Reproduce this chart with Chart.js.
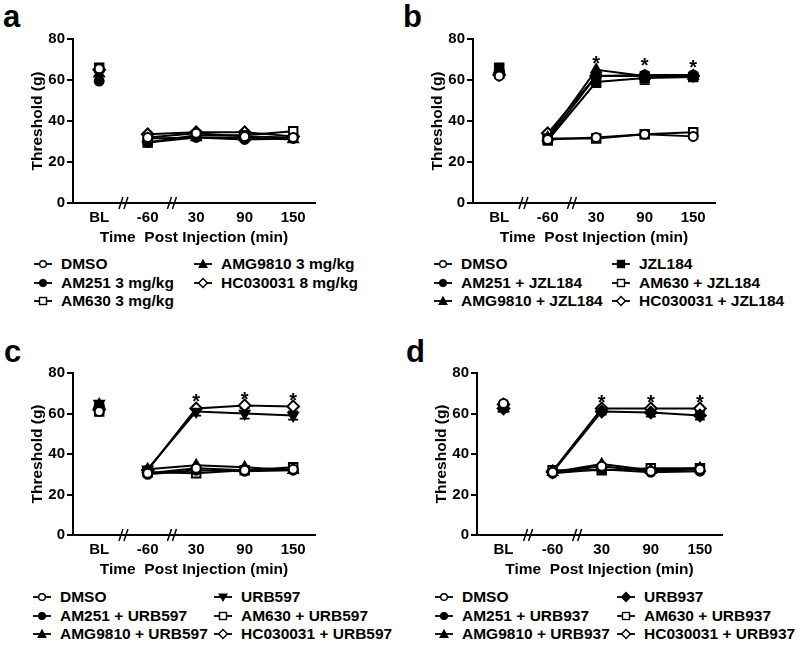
<!DOCTYPE html>
<html>
<head>
<meta charset="utf-8">
<script src="https://cdn.jsdelivr.net/npm/chart.js@4.4.1/dist/chart.umd.min.js"></script>
<style>
body { margin: 0; background: #fff; width: 800px; height: 645px; position: relative; overflow: hidden; font-family: 'Liberation Sans', Arial, sans-serif; font-weight: bold; color: #000; }
.panel { position: absolute; }
.letter { position: absolute; font-size: 31px; line-height: 30px; font-weight: bold; }
.leg { position: absolute; font-size: 15.5px; line-height: 16px; white-space: nowrap; display: flex; align-items: center; }
.leg svg { margin-right: 9px; }
</style>
</head>
<body>
<div class="letter" style="left:3px;top:2px">a</div>
<div class="letter" style="left:403px;top:2px">b</div>
<div class="letter" style="left:4px;top:337px">c</div>
<div class="letter" style="left:406px;top:337px">d</div>
<canvas id="pa" class="panel"></canvas>
<canvas id="pb" class="panel"></canvas>
<canvas id="pc" class="panel"></canvas>
<canvas id="pd" class="panel"></canvas>
<div id="legends"></div>
<script>
const timeLabels = ['BL', '-60', '30', '90', '150'];

// panel a
const namesA = ['DMSO', 'AM251 3 mg/kg', 'AM630 3 mg/kg', 'AMG9810 3 mg/kg', 'HC030031 8 mg/kg'];
const dmsoA = [65.5, 32, 34, 32.5, 32];
const am251A = [59.5, 29.5, 32, 31, 31.5];
const am630A = [66, 29.5, 33, 33, 35];
const amg9810A = [63, 31.5, 32, 32, 31];
const hcA = [65, 33.5, 34.5, 34.5, 32.5];

// panel b
const namesB = ['DMSO', 'AM251 + JZL184', 'AMG9810 + JZL184', 'JZL184', 'AM630 + JZL184', 'HC030031 + JZL184'];
const dmsoB = [62, 31, 32, 33.5, 32.5];
const am251B = [64, 31, 62, 62.5, 62.5];
const amg9810B = [65, 32, 65, 62, 62];
const jzlB = [66, 30.5, 59, 61, 61.5];
const jzlErrB = [1.5, 1, 2.5, 3, 1.5];
const am630B = [63, 31.5, 31.5, 33.5, 34.5];
const hcB = [62.5, 34, 62, 62, 62];
const sigB = [false, false, true, true, true];

// panel c
const namesC = ['DMSO', 'AM251 + URB597', 'AMG9810 + URB597', 'URB597', 'AM630 + URB597', 'HC030031 + URB597'];
const dmsoC = [61, 30.5, 33, 32, 32.5];
const am251C = [64, 30, 32, 31.5, 32];
const amg9810C = [64.5, 32.5, 34.5, 33.5, 32];
const urb597C = [65, 32.5, 61, 60, 59];
const urb597ErrC = [1, 1, 2, 2.5, 2];
const am630C = [61, 31, 30.5, 32, 33.5];
const hcC = [62, 32, 62.5, 64, 63.5];
const sigC = [false, false, true, true, true];

// panel d
const namesD = ['DMSO', 'AM251 + URB937', 'AMG9810 + URB937', 'URB937', 'AM630 + URB937', 'HC030031 + URB937'];
const dmsoD = [65, 31, 34, 31.5, 32.5];
const am251D = [63, 30.5, 32.5, 31, 31.5];
const amg9810D = [62.5, 31, 35, 32, 33];
const urb937D = [62.5, 31, 61, 60.5, 59];
const urb937ErrD = [1, 1, 1.5, 2, 2];
const am630D = [63, 32, 32, 33, 33];
const hcD = [64.5, 31.5, 62.5, 62.5, 62.5];
const sigD = [false, false, true, true, true];

const OC = { s: 'circle', rad: 4.5, f: false }, FC = { s: 'circle', rad: 4.5, f: true };
const OS = { s: 'rect', rad: 6, f: false }, FS = { s: 'rect', rad: 6, f: true };
const FT = { s: 'triangle', rad: 5.5, f: true }, FIT = { s: 'triangle', rad: 5.5, f: true, r: 180 };
const OD = { s: 'rectRot', rad: 5.8, f: false }, FD = { s: 'rectRot', rad: 5.8, f: true };

const FAM = "'Liberation Sans', Arial, sans-serif";
const TICKF = { family: FAM, weight: 'bold', size: 15 };
const TITLEF = { family: FAM, weight: 'bold', size: 15.5 };

const ds = (label, data, sh, err) => ({
    label, err,
    data: data.map((y, i) => ({ x: i, y })),
    pointStyle: sh.s, pointRotation: sh.r || 0, pointRadius: sh.rad, pointHoverRadius: sh.rad,
    pointBackgroundColor: sh.f ? '#000' : '#fff', pointBorderColor: '#000', pointBorderWidth: 2,
    borderColor: '#000', borderWidth: 2, fill: false, tension: 0,
    segment: { borderColor: c => c.p0DataIndex === 0 ? 'rgba(0,0,0,0)' : '#000' },
});

const marks = (sig) => ({
    id: 'marks',
    beforeDatasetsDraw(chart) {
        const { ctx, scales: { x, y } } = chart;
        ctx.save(); ctx.strokeStyle = '#000'; ctx.lineWidth = 1.8;
        chart.data.datasets.forEach(d => {
            if (!d.err) return;
            d.data.forEach((p, i) => {
                const e = d.err[i]; if (!e) return;
                const px = x.getPixelForValue(p.x), t = y.getPixelForValue(p.y + e), b = y.getPixelForValue(p.y - e);
                ctx.beginPath(); ctx.moveTo(px, t); ctx.lineTo(px, b);
                ctx.moveTo(px - 5, t); ctx.lineTo(px + 5, t); ctx.moveTo(px - 5, b); ctx.lineTo(px + 5, b); ctx.stroke();
            });
        });
        ctx.restore();
    },
    afterDraw(chart) {
        const { ctx, scales: { x, y }, chartArea } = chart;
        ctx.save(); ctx.strokeStyle = '#000'; ctx.lineWidth = 1.5;
        [0.5, 1.5].forEach(v => {
            const px = x.getPixelForValue(v), by = chartArea.bottom;
            [-2.5, 2.5].forEach(o => {
                ctx.beginPath(); ctx.moveTo(px + o - 2, by + 6); ctx.lineTo(px + o + 2, by - 6); ctx.stroke();
            });
        });
        if (sig) {
            ctx.fillStyle = '#000'; ctx.font = "bold 20px " + FAM; ctx.textAlign = 'center'; ctx.textBaseline = 'middle';
            sig.forEach((s, i) => {
                if (!s) return;
                const top = Math.max(...chart.data.datasets.map(d => d.data[i].y + ((d.err && d.err[i]) || 0)));
                ctx.fillText('*', x.getPixelForValue(i), y.getPixelForValue(top) - 5);
            });
        }
        ctx.restore();
    },
});

function panel(id, left, top, w, h, padR, datasets, sig) {
    const cv = document.getElementById(id);
    cv.style.left = left + 'px'; cv.style.top = top + 'px';
    cv.width = w; cv.height = h; cv.style.width = w + 'px'; cv.style.height = h + 'px';
    return new Chart(cv, {
        type: 'line',
        data: { datasets },
        plugins: [marks(sig)],
        options: {
            responsive: false, animation: false, events: [],
            layout: { padding: { left: 28, right: padR, top: 39, bottom: 0 } },
            plugins: { legend: { display: false }, tooltip: { enabled: false } },
            scales: {
                x: {
                    type: 'linear', min: -0.54, max: 4.45,
                    afterBuildTicks: s => { s.ticks = timeLabels.map((_, i) => ({ value: i })); },
                    afterFit: s => { s.height = 47; },
                    grid: { drawOnChartArea: false, drawTicks: false },
                    border: { color: '#000', width: 2 },
                    ticks: { color: '#000', font: TICKF, padding: 6, autoSkip: false, maxRotation: 0, callback: v => timeLabels[v] },
                    title: { display: true, text: 'Time  Post Injection (min)', color: '#000', font: TITLEF, padding: { top: 2, bottom: 3 } },
                },
                y: {
                    min: 0, max: 80,
                    afterFit: s => { s.width = 45; },
                    grid: { drawOnChartArea: false, drawTicks: true, tickLength: 6, color: '#000', lineWidth: 2 },
                    border: { color: '#000', width: 2 },
                    ticks: { stepSize: 20, color: '#000', font: TICKF, padding: 2 },
                    title: { display: true, text: 'Threshold (g)', color: '#000', font: TITLEF, padding: 0 },
                },
            },
        },
    });
}

panel('pa', 0, 0, 400, 250, 85, [
    ds(namesA[0], dmsoA, OC), ds(namesA[1], am251A, FC), ds(namesA[2], am630A, OS),
    ds(namesA[3], amg9810A, FT), ds(namesA[4], hcA, OD),
], null);
panel('pb', 400, 0, 400, 250, 85, [
    ds(namesB[0], dmsoB, OC), ds(namesB[1], am251B, FC), ds(namesB[2], amg9810B, FT),
    ds(namesB[3], jzlB, FS, jzlErrB), ds(namesB[4], am630B, OS), ds(namesB[5], hcB, OD),
], sigB);
panel('pc', 0, 334, 400, 248, 85, [
    ds(namesC[0], dmsoC, OC), ds(namesC[1], am251C, FC), ds(namesC[2], amg9810C, FT),
    ds(namesC[3], urb597C, FIT, urb597ErrC), ds(namesC[4], am630C, OS), ds(namesC[5], hcC, OD),
], sigC);
panel('pd', 404, 334, 400, 248, 82, [
    ds(namesD[0], dmsoD, OC), ds(namesD[1], am251D, FC), ds(namesD[2], amg9810D, FT),
    ds(namesD[3], urb937D, FD, urb937ErrD), ds(namesD[4], am630D, OS), ds(namesD[5], hcD, OD),
], sigD);

// legends, column-major like the original figure
function sym(sh) {
    const f = sh.f ? '#000' : '#fff';
    let m;
    if (sh.s === 'circle') m = `<circle cx="9" cy="6" r="3.3" fill="${f}" stroke="#000" stroke-width="1.4"/>`;
    else if (sh.s === 'rect') m = `<rect x="5.5" y="2.5" width="7" height="7" fill="${f}" stroke="#000" stroke-width="1.4"/>`;
    else if (sh.s === 'rectRot') m = `<polygon points="9,1.6 13.4,6 9,10.4 4.6,6" fill="${f}" stroke="#000" stroke-width="1.4"/>`;
    else if (sh.r) m = `<polygon points="5,3 13,3 9,10" fill="${f}" stroke="#000" stroke-width="1.1"/>`;
    else m = `<polygon points="5,9.5 13,9.5 9,2" fill="${f}" stroke="#000" stroke-width="1.1"/>`;
    return `<svg width="18" height="12" viewBox="0 0 18 12"><line x1="0" y1="6" x2="18" y2="6" stroke="#000" stroke-width="1.8"/>${m}</svg>`;
}
function legend(x1, x2, y, names, shapes, split) {
    let html = '';
    names.forEach((n, i) => {
        const col = i < split ? 0 : 1, row = i < split ? i : i - split;
        html += `<div class="leg" style="left:${col ? x2 : x1}px;top:${y + row * 18.7 - 8}px">${sym(shapes[i])}<span>${n}</span></div>`;
    });
    document.getElementById('legends').insertAdjacentHTML('beforeend', html);
}
legend(34, 194, 264, namesA, [OC, FC, OS, FT, OD], 3);
legend(34 + 400, 612, 264, namesB, [OC, FC, FT, FS, OS, OD], 3);
legend(33, 214, 597, namesC, [OC, FC, FT, FIT, OS, OD], 3);
legend(435, 617, 597, namesD, [OC, FC, FT, FD, OS, OD], 3);
</script>
</body>
</html>
